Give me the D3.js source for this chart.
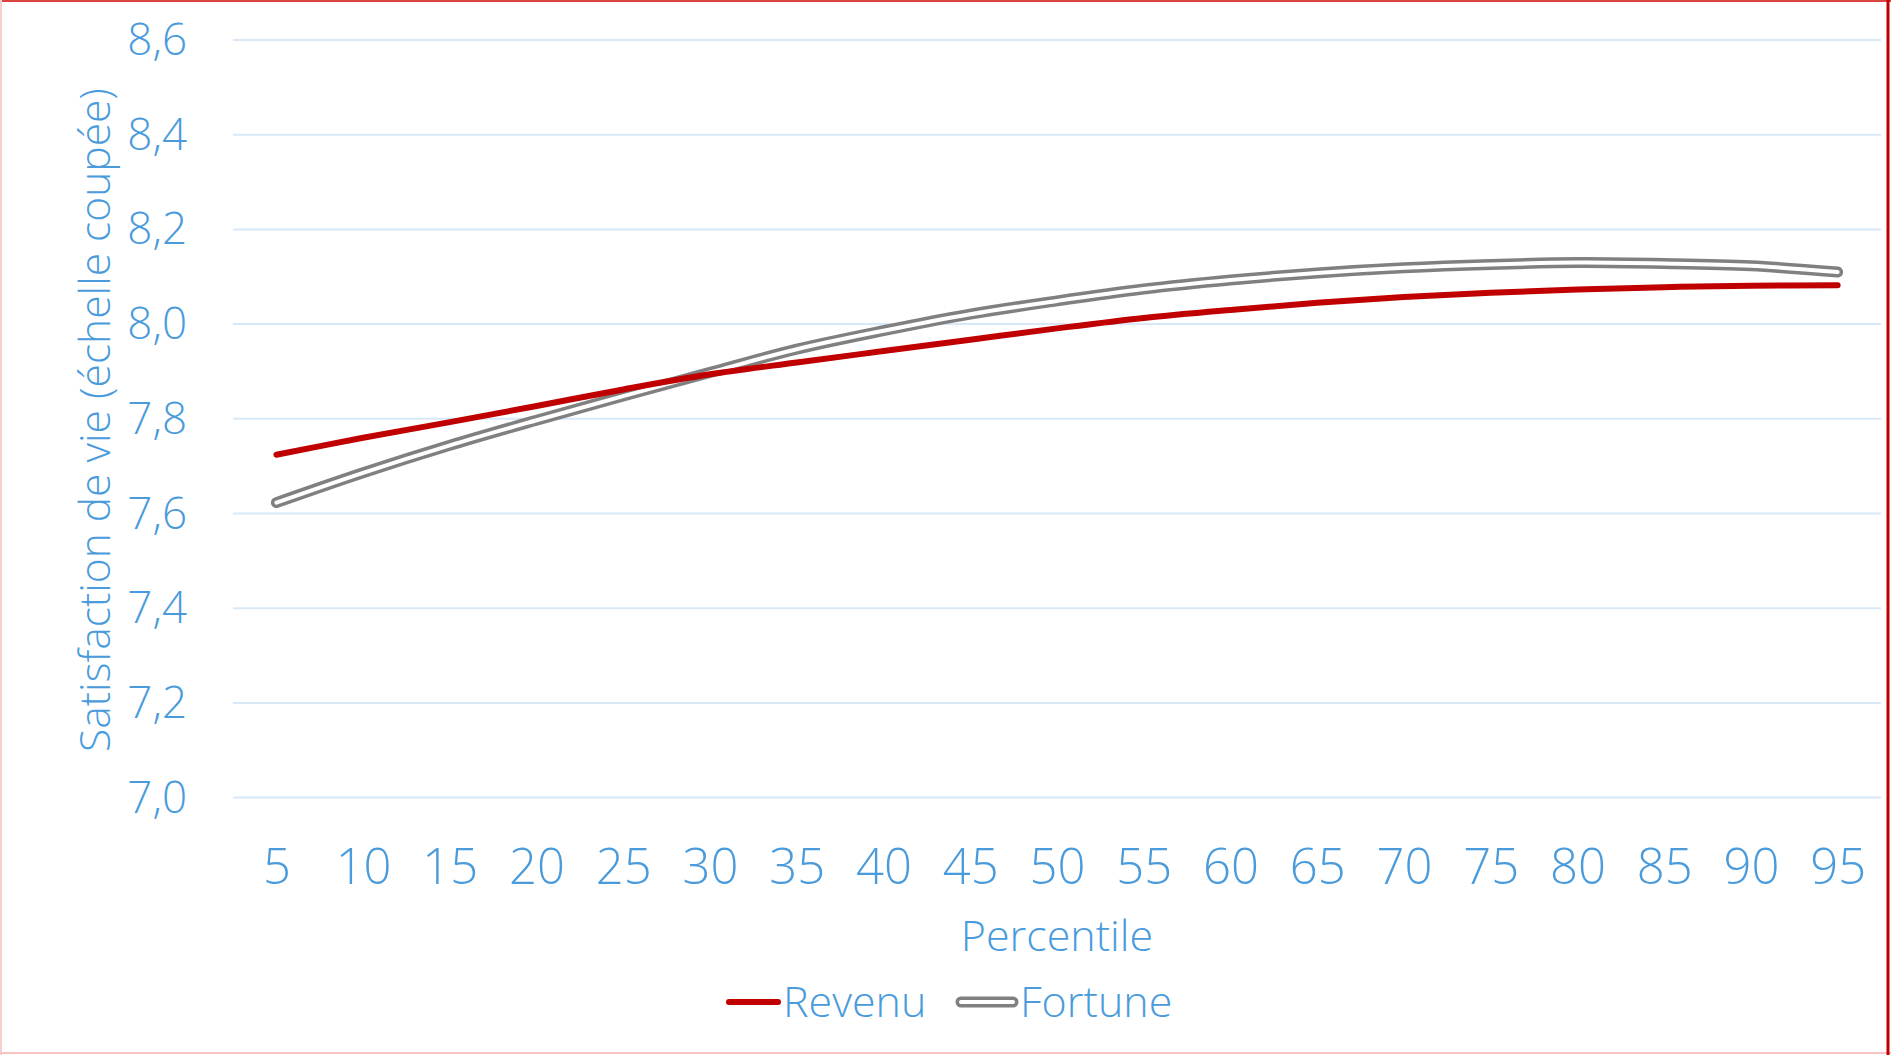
<!DOCTYPE html>
<html lang="fr">
<head>
<meta charset="UTF-8">
<title>Satisfaction de vie par percentile</title>
<script src="https://d3js.org/d3.v7.min.js"></script>
<style>
  body { margin: 0; background: #fff; }
  svg text { font-family: "Open Sans", "Segoe UI", sans-serif; font-weight: 300; fill: #4a9bdb; }
  .grid line { stroke: #d9e8f6; stroke-width: 2; }
</style>
</head>
<body>
<div id="chart"></div>
<script>
// percentiles on the x axis
const percentiles = [5, 10, 15, 20, 25, 30, 35, 40, 45, 50, 55, 60, 65, 70, 75, 80, 85, 90, 95];
// series values
const revenu  = [7.724, 7.760, 7.793, 7.827, 7.862, 7.894, 7.919, 7.943, 7.967, 7.991, 8.013, 8.030, 8.045, 8.057, 8.066, 8.073, 8.078, 8.081, 8.082];
const fortune = [7.623, 7.686, 7.744, 7.797, 7.848, 7.898, 7.947, 7.986, 8.021, 8.049, 8.074, 8.093, 8.108, 8.119, 8.126, 8.130, 8.128, 8.123, 8.110];
const yTicks = [7.0, 7.2, 7.4, 7.6, 7.8, 8.0, 8.2, 8.4, 8.6];

const W = 1891, H = 1055;
const svg = d3.select("#chart").append("svg")
    .attr("width", W).attr("height", H);

const x = d3.scalePoint().domain(percentiles).range([233, 1881]).padding(0.5);
const y = d3.scaleLinear().domain([7.0, 8.6]).range([797.6, 40]);

// gridlines
svg.append("g").attr("class", "grid")
    .selectAll("line").data(yTicks).join("line")
    .attr("x1", 233).attr("x2", 1881)
    .attr("y1", d => y(d)).attr("y2", d => y(d));

// y axis labels
const fmt = d => d3.format(".1f")(d).replace(".", ",");
const yAxis = svg.append("g").attr("transform", "translate(187,0)")
    .call(d3.axisLeft(y).tickValues(yTicks).tickFormat(fmt).tickSize(0).tickPadding(0));
yAxis.select(".domain").remove();
yAxis.selectAll("text").attr("font-size", 44).attr("dy", "0.33em");

// x axis labels
const xAxis = svg.append("g").attr("transform", "translate(0,884)")
    .call(d3.axisBottom(x).tickSize(0).tickPadding(0));
xAxis.select(".domain").remove();
xAxis.selectAll("text").attr("font-size", 49).attr("dy", 0).attr("y", 0);

// axis titles
svg.append("text")
    .attr("transform", "rotate(-90)")
    .attr("x", -420).attr("y", 110)
    .attr("text-anchor", "middle").attr("font-size", 42.5)
    .text("Satisfaction de vie (échelle coupée)");

svg.append("text")
    .attr("x", 1057).attr("y", 951)
    .attr("text-anchor", "middle").attr("font-size", 43)
    .text("Percentile");

// lines
const line = d3.line()
    .x((d, i) => x(percentiles[i]))
    .y(d => y(d))
    .curve(d3.curveCatmullRom);

svg.append("path").datum(fortune)
    .attr("d", line).attr("fill", "none")
    .attr("stroke", "#808080").attr("stroke-width", 11)
    .attr("stroke-linecap", "round").attr("stroke-linejoin", "round");
svg.append("path").datum(fortune)
    .attr("d", line).attr("fill", "none")
    .attr("stroke", "#fff").attr("stroke-width", 4)
    .attr("stroke-linecap", "round").attr("stroke-linejoin", "round");

svg.append("path").datum(revenu)
    .attr("d", line).attr("fill", "none")
    .attr("stroke", "#c00000").attr("stroke-width", 6)
    .attr("stroke-linecap", "round").attr("stroke-linejoin", "round");

// legend
const legY = 1002;
svg.append("line")
    .attr("x1", 729).attr("x2", 778).attr("y1", legY).attr("y2", legY)
    .attr("stroke", "#c00000").attr("stroke-width", 6).attr("stroke-linecap", "round");
svg.append("text").attr("x", 783).attr("y", 1017).attr("font-size", 43).text("Revenu");

svg.append("line")
    .attr("x1", 961).attr("x2", 1013).attr("y1", legY).attr("y2", legY)
    .attr("stroke", "#808080").attr("stroke-width", 11).attr("stroke-linecap", "round");
svg.append("line")
    .attr("x1", 961).attr("x2", 1013).attr("y1", legY).attr("y2", legY)
    .attr("stroke", "#fff").attr("stroke-width", 4).attr("stroke-linecap", "round");
svg.append("text").attr("x", 1020).attr("y", 1017).attr("font-size", 43).text("Fortune");

// frame edges as in the source image
svg.append("line").attr("x1", 0).attr("x2", W).attr("y1", 1).attr("y2", 1)
    .attr("stroke", "#d9443f").attr("stroke-width", 2);
svg.append("line").attr("x1", 1).attr("x2", 1).attr("y1", 0).attr("y2", H)
    .attr("stroke", "#f6d0d0").attr("stroke-width", 2);
svg.append("line").attr("x1", 0).attr("x2", W).attr("y1", 1053).attr("y2", 1053)
    .attr("stroke", "#f6c4c4").attr("stroke-width", 2);
svg.append("line").attr("x1", 1888).attr("x2", 1888).attr("y1", 0).attr("y2", H)
    .attr("stroke", "#c00000").attr("stroke-width", 3);
</script>
</body>
</html>
